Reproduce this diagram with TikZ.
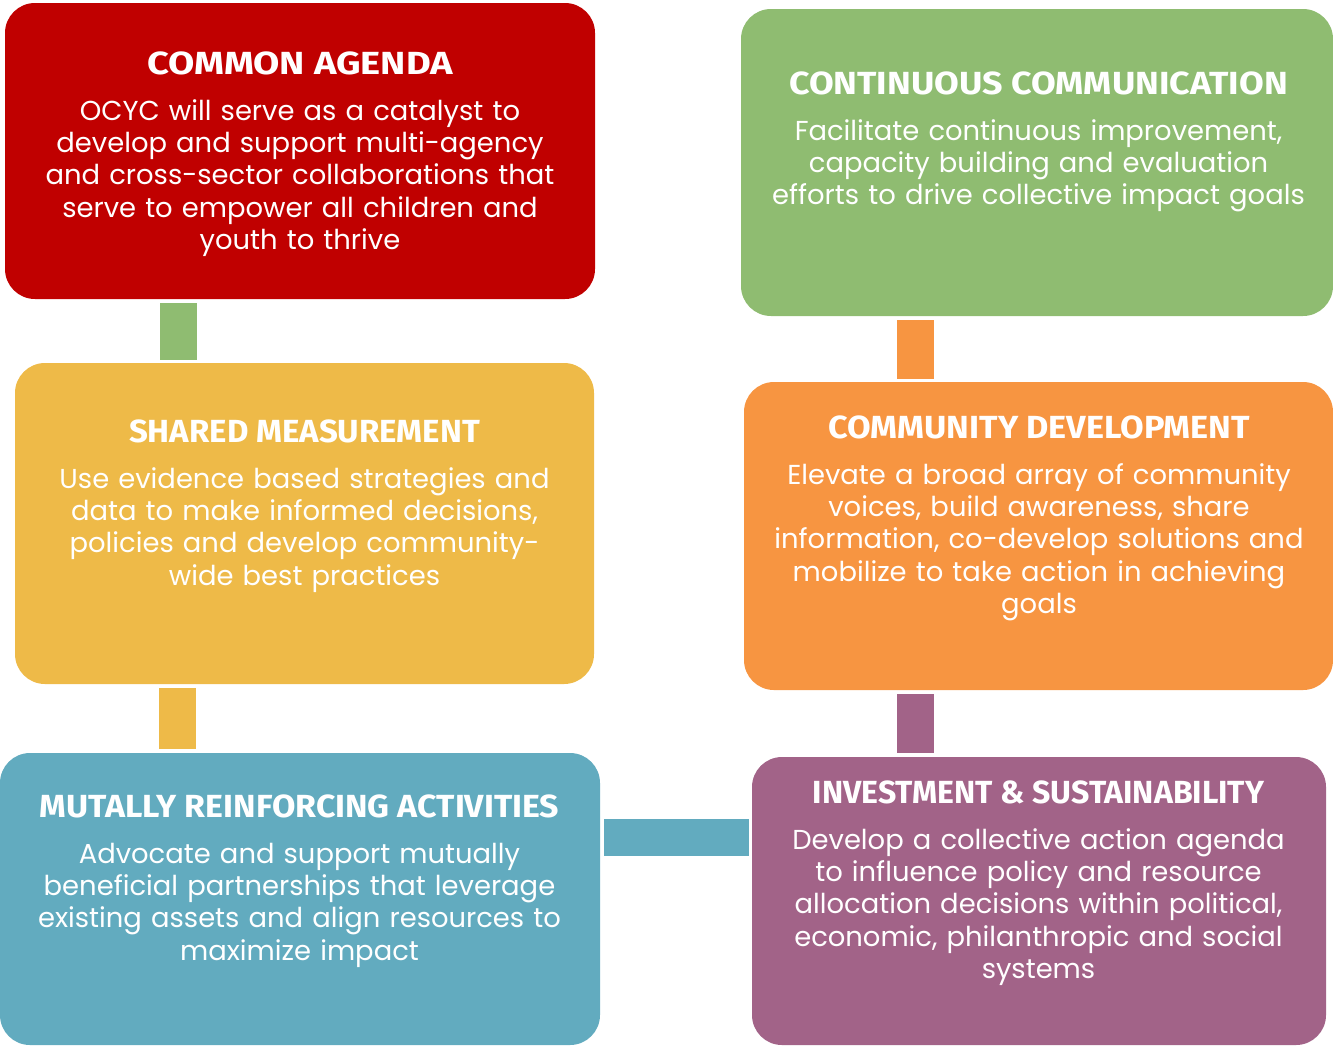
\documentclass[tikz,border=0pt]{standalone}
\usepackage{fontspec}
\usepackage{graphicx}
\setmainfont{Poppins}
\newfontfamily\headfont{Fira Sans}
\usepackage{tikz}
\usetikzlibrary{positioning, calc, shapes}

\definecolor{agendared}{HTML}{C00000}
\definecolor{commgreen}{HTML}{8FBC71}
\definecolor{measureyellow}{HTML}{EEBA48}
\definecolor{devorange}{HTML}{F79541}
\definecolor{activteal}{HTML}{62ABBF}
\definecolor{investpurple}{HTML}{A26388}

\newcommand{\wide}[2]{\scalebox{#1}[1]{#2}}

\tikzstyle{box} = [rectangle, rounded corners=22.5pt, inner sep=0pt, draw=none]
\tikzstyle{title} = [text=white, font=\headfont\bfseries\fontsize{24}{28}\selectfont, inner sep=0pt, anchor=base]
\tikzstyle{body} = [text=white, font=\fontsize{20.55}{24.1}\selectfont, align=center, text width=440pt, inner sep=0pt]
\tikzstyle{link} = [line width=27.75pt]

\begin{document}
\begin{tikzpicture}[x=0.75pt, y=-0.75pt]
\useasboundingbox (0, 0) rectangle (1333, 1047);

  % boxes
  \node[box, fill=agendared, minimum width=442.5pt, minimum height=222pt] (agenda) at (300, 151) {};
  \node[box, fill=commgreen, minimum width=444pt, minimum height=230.25pt] (comm) at (1037, 162.5) {};
  \node[box, fill=measureyellow, minimum width=434.25pt, minimum height=240.75pt] (measure) at (304.5, 523.5) {};
  \node[box, fill=devorange, minimum width=441.75pt, minimum height=231pt] (develop) at (1038.5, 536) {};
  \node[box, fill=activteal, minimum width=450pt, minimum height=219pt] (activ) at (300, 899) {};
  \node[box, fill=investpurple, minimum width=430.5pt, minimum height=216pt] (invest) at (1039, 901) {};

  % connectors
  \draw[link, commgreen] ($(agenda.south) + (-121.5, 4)$) -- ($(measure.north) + (-126, -3)$);
  \draw[link, measureyellow] ($(measure.south) + (-127, 4)$) -- ($(activ.north) + (-122.5, -4)$);
  \draw[link, devorange] ($(comm.south) + (-122, 4)$) -- ($(develop.north) + (-123.5, -3)$);
  \draw[link, investpurple] ($(develop.south) + (-123.5, 4)$) -- ($(invest.north) + (-124, -4)$);
  \draw[link, activteal] ($(activ.east) + (4, -61.5)$) -- ($(invest.west) + (-3, -63.5)$);

  % titles
  \node[title] (agendaT) at (300, 74) {\wide{1.19}{COMMON AGENDA}};
  \node[title] (commT) at (1038.5, 94) {\wide{1.12}{CONTINUOUS COMMUNICATION}};
  \node[title] (measureT) at (304.5, 442) {\wide{1.03}{SHARED MEASUREMENT}};
  \node[title] (developT) at (1039, 438) {\wide{1.07}{COMMUNITY DEVELOPMENT}};
  \node[title] (activT) at (299.5, 817) {\wide{1.06}{MUTALLY REINFORCING ACTIVITIES}};
  \node[title] (investT) at (1038.5, 803) {INVESTMENT \& SUSTAINABILITY};

  % texts
  \node[body, below=35pt of agendaT.base, anchor=base] (agendaB) {OCYC will serve as a catalyst to\\ develop and support multi-agency\\ and cross-sector collaborations that\\ serve to empower all children and\\ youth to thrive};
  \node[body, below=35pt of commT.base, anchor=base] (commB) {Facilitate continuous improvement,\\ capacity building and evaluation\\ efforts to drive collective impact goals};
  \node[body, below=35pt of measureT.base, anchor=base] (measureB) {Use evidence based strategies and\\ data to make informed decisions,\\ policies and develop community-\\ wide best practices};
  \node[body, below=35pt of developT.base, anchor=base] (developB) {Elevate a broad array of community\\ voices, build awareness, share\\ information, co-develop solutions and\\ mobilize to take action in achieving\\ goals};
  \node[body, below=35pt of activT.base, anchor=base] (activB) {Advocate and support mutually\\ beneficial partnerships that leverage\\ existing assets and align resources to\\ maximize impact};
  \node[body, below=35pt of investT.base, anchor=base] (investB) {Develop a collective action agenda\\ to influence policy and resource\\ allocation decisions within political,\\ economic, philanthropic and social\\ systems};

\end{tikzpicture}
\end{document}
